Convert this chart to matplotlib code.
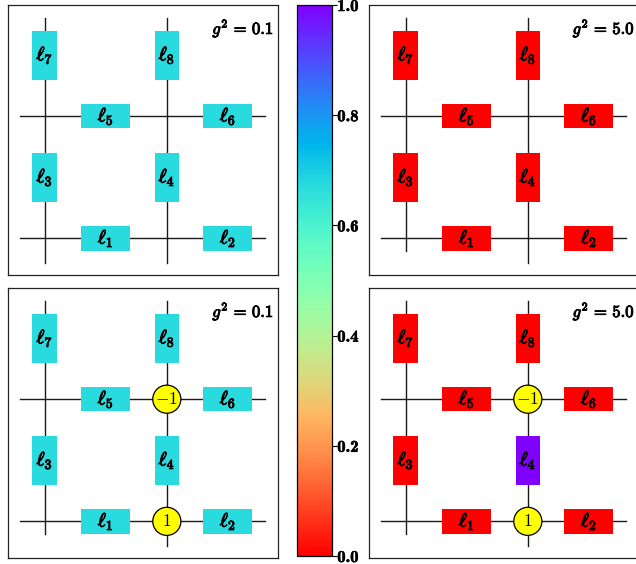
import os
import numpy as np
import matplotlib
matplotlib.use("Agg")
import matplotlib.pyplot as plt
import matplotlib.patheffects as patheffects
from matplotlib.font_manager import FontProperties
from matplotlib.patches import Rectangle, Circle

plt.rcParams['mathtext.fontset'] = 'cm'
plt.rcParams['font.family'] = 'serif'

# link centres and orientation (h = horizontal, v = vertical)
link_names = [1, 2, 3, 4, 5, 6, 7, 8]
link_x = [0.5, 1.5, 0.0, 1.0, 0.5, 1.5, 0.0, 1.0]
link_y = [0.0, 0.0, 0.5, 0.5, 1.0, 1.0, 1.5, 1.5]
link_dir = ['h', 'h', 'v', 'v', 'h', 'h', 'v', 'v']

# panel values (colour scale 0..1)
vals_tl = [0.67, 0.67, 0.67, 0.67, 0.67, 0.67, 0.67, 0.67]
vals_tr = [0.0, 0.0, 0.0, 0.0, 0.0, 0.0, 0.0, 0.0]
vals_bl = [0.67, 0.67, 0.67, 0.67, 0.67, 0.67, 0.67, 0.67]
vals_br = [0.0, 0.0, 0.0, 1.0, 0.0, 0.0, 0.0, 0.0]

g2_labels = ['0.1', '5.0', '0.1', '5.0']

# charges on sites
charge_x = [1.0, 1.0]
charge_y = [0.0, 1.0]
charge_txt = ['1', '-1']

# lower end of the vertical lines at x=0 and x=1
vline_bottom = {'tl': [-0.2, -0.2], 'tr': [-0.1, -0.2],
                'bl': [-0.1, -0.2], 'br': [-0.1, -0.2]}

cbar_ticks = [0.0, 0.2, 0.4, 0.6, 0.8, 1.0]

cmap = plt.get_cmap('rainbow_r')

# fake bold for the computer modern math glyphs
bold = [patheffects.withStroke(linewidth=0.7, foreground='black')]
bold_lt = [patheffects.withStroke(linewidth=0.4, foreground='black')]
cmb = FontProperties(fname=os.path.join(matplotlib.get_data_path(), 'fonts', 'ttf', 'cmb10.ttf'),
                     size=12)

fig = plt.figure(figsize=(6.36, 5.64), dpi=100)

W = 270 / 636
H = 270 / 564
positions = {
    'tl': [8 / 636, 1 - 275 / 564, W, H],
    'tr': [369 / 636, 1 - 275 / 564, W, H],
    'bl': [8 / 636, 1 - 558 / 564, W, H],
    'br': [369 / 636, 1 - 558 / 564, W, H],
}


def draw_panel(key, vals, g2, charges):
    ax = fig.add_axes(positions[key])
    ax.set_xlim(-0.3, 1.91)
    ax.set_ylim(-0.3, 1.91)
    ax.set_xticks([])
    ax.set_yticks([])
    for s in ax.spines.values():
        s.set_linewidth(0.9)
        s.set_color('#222222')

    # lattice lines
    for yy in [0.0, 1.0]:
        ax.plot([-0.2, 1.8], [yy, yy], color='#1a1a1a', lw=1.0, zorder=1)
    for xx, yb in zip([0.0, 1.0], vline_bottom[key]):
        ax.plot([xx, xx], [yb, 1.8], color='#1a1a1a', lw=1.0, zorder=1)

    # links
    for n, x, y, d, v in zip(link_names, link_x, link_y, link_dir, vals):
        w, h = (0.4, 0.2) if d == 'h' else (0.2, 0.4)
        ax.add_patch(Rectangle((x - w / 2, y - h / 2), w, h,
                               facecolor=cmap(v), edgecolor='none', zorder=2))
        ax.text(x, y, r'$\ell_{%d}$' % n, ha='center', va='center',
                fontsize=14, zorder=3, path_effects=bold)

    if charges:
        for x, y, t in zip(charge_x, charge_y, charge_txt):
            ax.add_patch(Circle((x, y), 0.115, facecolor='yellow',
                                edgecolor='black', lw=0.9, zorder=4))
            ax.text(x, y, r'$%s$' % t, ha='center', va='center',
                    fontsize=12.5, zorder=5)

    ax.text(0.985, 0.915, r'$g^2\,=\,%s$' % g2, transform=ax.transAxes,
            ha='right', va='center', fontsize=12, path_effects=bold)
    return ax


draw_panel('tl', vals_tl, g2_labels[0], False)
draw_panel('tr', vals_tr, g2_labels[1], False)
draw_panel('bl', vals_bl, g2_labels[2], True)
draw_panel('br', vals_br, g2_labels[3], True)

# colour bar
cax = fig.add_axes([297 / 636, 1 - 556 / 564, 35 / 636, 551 / 564])
sm = plt.cm.ScalarMappable(cmap=cmap, norm=plt.Normalize(0, 1))
cb = fig.colorbar(sm, cax=cax, ticks=cbar_ticks)
cb.ax.set_yticklabels([])
cb.ax.tick_params(width=0.8, length=3.5)
cb.outline.set_linewidth(0.9)
for t in cbar_ticks:
    cax.text(1.15, t, '%.1f' % t, transform=cax.get_yaxis_transform(),
             ha='left', va='center_baseline', fontproperties=cmb,
             path_effects=bold_lt, clip_on=False)

fig.savefig('out.png', dpi=100)
